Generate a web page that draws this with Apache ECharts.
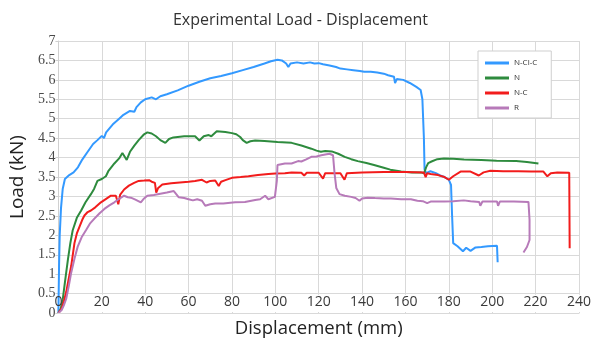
<!DOCTYPE html>
<html>
<head>
<meta charset="utf-8">
<script src="https://cdn.jsdelivr.net/npm/echarts@6/dist/echarts.min.js"></script>
<style>
  html, body { margin: 0; padding: 0; background: #fff; }
  #chart { width: 601px; height: 343px; }
</style>
</head>
<body>
<div id="chart"></div>
<script>
// displacement (mm), load (kN)
const nclc = [[0,0],[0.3,1.2],[0.6,2.0],[1.2,2.7],[2,3.2],[3,3.45],[5,3.55],[7,3.62],[9,3.75],[11,3.95],[13.5,4.15],[16,4.35],[18,4.45],[20,4.56],[21,4.5],[22,4.65],[25,4.85],[28,5.0],[30,5.1],[33,5.2],[35,5.18],[36,5.3],[38,5.42],[40,5.5],[43,5.55],[45,5.5],[47,5.58],[50,5.63],[55,5.73],[60,5.85],[65,5.95],[70,6.04],[75,6.1],[80,6.17],[85,6.25],[90,6.33],[95,6.42],[98,6.48],[101,6.52],[103,6.5],[105,6.42],[106,6.33],[107,6.42],[110,6.45],[113,6.42],[116,6.45],[118,6.42],[120,6.43],[122,6.4],[125,6.37],[128,6.33],[130,6.29],[133,6.27],[136,6.25],[139,6.23],[141,6.21],[144,6.21],[147,6.19],[150,6.16],[152,6.12],[154.7,6.08],[155.2,5.92],[156,6.02],[159,6.0],[162,5.92],[165,5.82],[167,5.74],[167.8,5.5],[168.5,4.5],[168.8,3.7],[169.5,3.6],[171.5,3.65],[174,3.6],[176,3.54],[178,3.5],[180,3.43],[181,3.3],[181.5,2.5],[182,1.8],[184,1.72],[186.5,1.59],[188,1.68],[190,1.6],[192.3,1.69],[195,1.7],[198,1.72],[202.2,1.73],[202.5,1.31]];

const n = [[0,0],[1,0.1],[2,0.35],[2.8,0.7],[3.5,1.0],[4.4,1.38],[5.5,1.8],[6.6,2.13],[8.5,2.45],[10.5,2.64],[12.5,2.85],[15,3.06],[16.5,3.2],[18,3.4],[20,3.45],[21.9,3.52],[23,3.65],[25.8,3.85],[28,3.98],[29.5,4.12],[30.3,4.1],[31.5,3.94],[33,4.15],[35,4.31],[37,4.45],[39.5,4.6],[41,4.65],[43,4.62],[45,4.55],[47,4.45],[49.3,4.38],[51,4.48],[53,4.52],[58,4.55],[63,4.55],[65,4.44],[67,4.55],[69.3,4.58],[70.5,4.55],[73,4.68],[77,4.66],[80,4.63],[82,4.6],[83.8,4.53],[85,4.45],[86.8,4.38],[88.5,4.42],[90.7,4.44],[95,4.43],[101,4.4],[107.5,4.38],[112,4.31],[116.6,4.23],[119,4.18],[121,4.15],[123,4.17],[126,4.16],[129,4.1],[132,4.02],[135,3.96],[138,3.91],[142,3.86],[145.5,3.81],[150,3.74],[153,3.69],[158,3.64],[163,3.62],[167,3.62],[168.6,3.6],[169.5,3.75],[170.5,3.86],[172,3.9],[174.7,3.96],[177.7,3.98],[182,3.97],[187,3.95],[195,3.94],[202,3.92],[211,3.91],[216,3.89],[221.3,3.85]];

const nc = [[0,0],[1.5,0.12],[2.5,0.3],[3.6,0.54],[4.8,0.9],[5.9,1.21],[7.4,1.8],[8.5,2.05],[9.7,2.22],[11,2.4],[12,2.51],[13.5,2.6],[15,2.64],[17,2.72],[19.6,2.85],[22,2.94],[24.2,3.02],[26.5,3.02],[27.6,2.8],[28.5,3.05],[30.3,3.18],[32.5,3.28],[34.9,3.35],[37,3.4],[39.5,3.41],[41.8,3.42],[43,3.38],[44.5,3.35],[45.1,3.1],[46,3.22],[47.9,3.31],[52,3.34],[56,3.36],[60,3.38],[63,3.4],[66.2,3.43],[68.3,3.36],[70,3.4],[72.3,3.41],[73.9,3.27],[75,3.38],[77,3.42],[80,3.48],[84,3.5],[87.6,3.52],[92,3.55],[96.8,3.58],[100,3.59],[104.4,3.6],[107.5,3.62],[112,3.61],[113.3,3.54],[114.5,3.61],[120,3.61],[122,3.46],[123,3.6],[130,3.6],[131.9,3.43],[133,3.6],[140,3.62],[150,3.63],[160,3.63],[168.5,3.62],[169.3,3.5],[170,3.6],[171.6,3.58],[175,3.55],[178,3.5],[180,3.43],[182,3.52],[185.4,3.64],[190,3.64],[193.8,3.54],[196,3.62],[199.1,3.66],[205,3.65],[212,3.65],[218,3.64],[223.6,3.64],[225.4,3.52],[227,3.6],[230,3.62],[235.5,3.61],[235.7,1.67]];

const r = [[0,0],[1.5,0.08],[2.5,0.2],[3.6,0.37],[4.8,0.7],[5.9,1.04],[7.4,1.4],[8.9,1.71],[10.7,1.95],[12.7,2.13],[14.5,2.3],[16.6,2.43],[19,2.57],[21.2,2.68],[23.5,2.77],[25.8,2.85],[28,2.94],[30.3,3.02],[32,2.98],[33.4,2.97],[35.5,2.92],[38,2.85],[39.5,2.95],[41,3.02],[44,3.04],[47,3.07],[50,3.1],[53.2,3.14],[54.5,3.05],[55.5,2.98],[58,2.96],[60,2.93],[62,2.9],[64,2.93],[66.2,2.89],[67.7,2.76],[70,2.8],[72.3,2.82],[76,2.82],[81.5,2.85],[86,2.86],[90.7,2.91],[93,2.93],[95.3,3.02],[96.8,2.93],[99.8,2.99],[100.7,3.4],[101,3.81],[104.4,3.85],[107.5,3.85],[110.5,3.91],[112,3.9],[114,3.95],[116.6,4.02],[119,4.03],[121.2,4.06],[123,4.08],[125,4.1],[126.6,4.06],[127.3,3.6],[128.1,3.22],[129.6,3.06],[132,3.02],[135,2.99],[137,2.96],[138.8,2.89],[140,2.95],[142.6,2.97],[146,2.96],[150,2.95],[153.3,2.95],[158,2.93],[162.5,2.93],[165.5,2.89],[168,2.88],[170,2.83],[171.6,2.87],[175,2.87],[178,2.87],[182,2.88],[186.9,2.9],[190,2.88],[194,2.86],[194.5,2.76],[195.5,2.87],[200,2.87],[202.2,2.87],[202.7,2.76],[203.5,2.87],[210,2.87],[216.7,2.86],[217.2,2.4],[217.2,1.88],[216,1.7],[214.4,1.56]];

const seriesNames = ['N-Cl-C', 'N', 'N-C', 'R'];
const colors = ['#3399ff', '#2e8b3e', '#f21c1c', '#b77ab9'];

const myChart = echarts.init(document.getElementById('chart'));
myChart.setOption({
  animation: false,
  color: colors,
  title: {
    text: 'Experimental Load - Displacement',
    left: 'center',
    top: 7,
    textStyle: { fontFamily: 'Open Sans', fontSize: 16, fontWeight: 'normal', color: '#333' }
  },
  legend: {
    orient: 'vertical',
    left: 478,
    top: 51,
    padding: [7, 14, 5, 7],
    backgroundColor: '#fff',
    borderColor: '#cfcfcf',
    borderWidth: 1,
    icon: 'rect',
    itemWidth: 24,
    itemHeight: 3,
    itemGap: 5,
    textStyle: { fontFamily: 'Open Sans', fontSize: 8, color: '#333', lineHeight: 10 },
    data: seriesNames
  },
  grid: { left: 55, right: 22, top: 41, bottom: 25 },
  xAxis: [
    {
      type: 'value',
      min: 0,
      max: 240,
      interval: 20,
      z: 5,
      name: 'Displacement (mm)',
      nameLocation: 'middle',
      nameGap: 2,
      nameTextStyle: { fontFamily: 'Open Sans', fontSize: 18.5, color: '#222', verticalAlign: 'top' },
      axisLine: { show: true, lineStyle: { color: '#d9d9d9' } },
      axisTick: { show: false },
      splitLine: { show: false },
      axisLabel: { margin: -18, fontFamily: 'Open Sans', fontSize: 14, color: '#3a3a3a' }
    },
    {
      type: 'value',
      min: 0,
      max: 240,
      interval: 20,
      position: 'bottom',
      axisLine: { show: false },
      axisTick: { show: false },
      axisLabel: { show: false },
      splitLine: { show: true, lineStyle: { color: '#d9d9d9' } }
    }
  ],
  yAxis: {
    type: 'value',
    min: 0,
    max: 7,
    interval: 0.5,
    name: 'Load (kN)',
    nameLocation: 'middle',
    nameGap: 26,
    nameTextStyle: { fontFamily: 'Open Sans', fontSize: 19, color: '#222' },
    axisLine: { show: true, lineStyle: { color: '#d0d0d0' } },
    axisTick: { show: true, length: 3, lineStyle: { color: '#d0d0d0' } },
    axisLabel: { margin: 3, fontFamily: 'Liberation Serif', fontSize: 14, color: '#4a4a4a' },
    splitLine: { show: true, lineStyle: { color: '#d9d9d9' } }
  },
  series: [nclc, n, nc, r].map((data, i) => ({
    name: seriesNames[i],
    type: 'line',
    data,
    showSymbol: false,
    symbol: 'none',
    lineStyle: { width: 2 },
    z: 3
  }))
});

// white band behind the x labels, between load 0 and 0.5 (as in the source picture)
const pTop = myChart.convertToPixel({ gridIndex: 0 }, [0, 0.5]);
const pBot = myChart.convertToPixel({ gridIndex: 0 }, [240, 0]);
myChart.setOption({
  graphic: [{
    type: 'rect',
    z: 1,
    shape: { x: pTop[0] + 1, y: pTop[1] + 1, width: pBot[0] - pTop[0] + 1, height: pBot[1] - pTop[1] - 2 },
    style: { fill: '#fff' }
  }]
});
</script>
</body>
</html>
